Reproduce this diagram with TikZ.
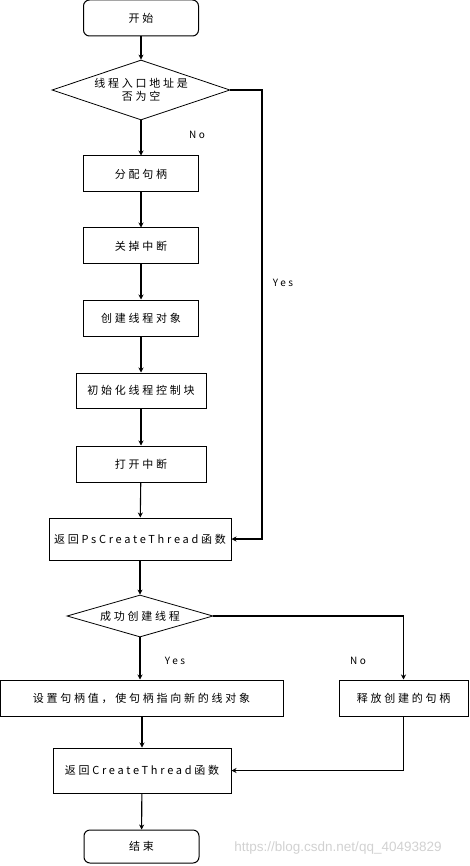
\documentclass[tikz,border=0pt]{standalone}
\usepackage{fontspec}
\setmainfont{Noto Sans CJK SC}[LetterSpace=25]
\newfontfamily\latinfont{Liberation Sans}
\usetikzlibrary{shapes.geometric,arrows.meta}
\begin{document}
\begin{tikzpicture}[x=1pt,y=-1pt,
  every node/.style={font=\fontsize{11}{13.5}\selectfont},
  proc/.style={draw,line width=1pt,rectangle,minimum width=115pt,minimum height=36pt,inner sep=0pt,align=center},
  term/.style={proc,rounded corners=6pt},
  decide/.style={draw,line width=0.8pt,diamond,inner sep=0pt,align=center},
  arr/.style={line width=1.1pt,-{Stealth[length=5pt,width=5pt]}},
  lbl/.style={font=\fontsize{10}{11}\selectfont}
]
\useasboundingbox (0,0) rectangle (469,866);
\node[term] (start) at (141,18) {开始};
\node[decide,minimum width=178pt,minimum height=60pt,aspect=2.97] (d1) at (141,90) {线程入口地址是\\否为空};
\node[proc] (b1) at (141,174) {分配句柄};
\node[proc] (b2) at (141,246) {关掉中断};
\node[proc] (b3) at (141,318) {创建线程对象};
\node[proc,minimum width=130pt,minimum height=35pt] (b4) at (141,390.5) {初始化线程控制块};
\node[proc,minimum width=130pt] (b5) at (141,464) {打开中断};
\node[proc,minimum width=182pt,minimum height=42pt] (b6) at (140,539) {返回PsCreateThread函数};
\node[decide,minimum width=146pt,minimum height=42pt,aspect=3.4] (d2) at (140,616) {成功创建线程};
\node[proc,minimum width=283pt] (b7) at (141.5,698) {设置句柄值，使句柄指向新的线对象};
\node[proc,minimum width=129pt] (b8) at (403.5,698) {释放创建的句柄};
\node[proc,minimum width=178pt,minimum height=45pt] (b9) at (142,770.5) {返回CreateThread函数};
\node[term,minimum height=33pt] (end) at (141.5,846.5) {结束};

\coordinate (c1) at (262,90);
\draw[arr] (start) -- (d1);
\draw[arr] (d1) -- (b1);
\draw[arr] (b1) -- (b2);
\draw[arr] (b2) -- (b3);
\draw[arr] (b3) -- (b4);
\draw[arr] (b4) -- (b5);
\draw[arr] (b5) -- (b6);
\draw[arr] (d1.east) -- (c1) |- (b6.east);
\draw[arr] (b6) -- (d2);
\draw[arr] (d2.east) -| (b8.north);
\draw[arr] (d2.south) -- (d2.south |- b7.north);
\draw[arr] (b7.south -| b9.north) -- (b9.north);
\draw[arr] (b8.south) |- (b9.east);
\draw[arr] (b9) -- (end);

\node[lbl] (l1) at (197,135) {No};
\node[lbl] (l2) at (283,283) {Yes};
\node[lbl] (l3) at (175,661) {Yes};
\node[lbl] (l4) at (358,661) {No};
\node[font=\latinfont\fontsize{13.5}{15}\selectfont,text=black!18] (wm) at (338,848) {https://blog.csdn.net/qq\_40493829};
\end{tikzpicture}
\end{document}
